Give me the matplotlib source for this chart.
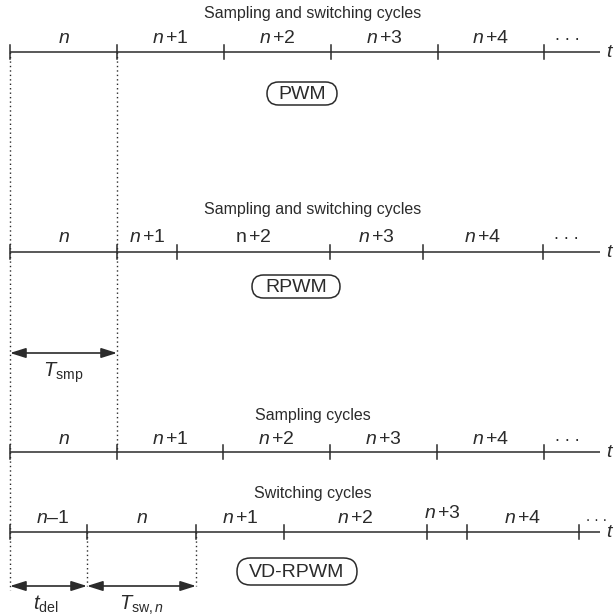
import matplotlib
matplotlib.use("Agg")
import matplotlib.pyplot as plt
from matplotlib.patches import FancyBboxPatch, FancyArrowPatch

plt.rcParams['font.family'] = ['Liberation Sans', 'DejaVu Sans']
plt.rcParams['mathtext.fontset'] = 'custom'
plt.rcParams['mathtext.rm'] = 'Liberation Sans'
plt.rcParams['mathtext.it'] = 'Liberation Sans:italic'
plt.rcParams['mathtext.bf'] = 'Liberation Sans:bold'


# DATA (pixel positions)
line_y = [52, 252, 452, 532]
line_end = 600

ticks = [
    [10, 117, 224, 331, 438, 544],
    [10, 117, 177, 330, 423, 543],
    [10, 117, 223, 330, 437, 544],
    [10, 87, 196, 284, 427, 467, 579],
]

labels = [
    [r"$n$", r"$n\,{+}1$", r"$n\,{+}2$", r"$n\,{+}3$", r"$n\,{+}4$"],
    [r"$n$", r"$n\,{+}1$", r"$\mathrm{n}\,{+}2$", r"$n\,{+}3$", r"$n\,{+}4$"],
    [r"$n$", r"$n\,{+}1$", r"$n\,{+}2$", r"$n\,{+}3$", r"$n\,{+}4$"],
    [r"$n$–1", r"$n$", r"$n\,{+}1$", r"$n\,{+}2$", r"$n\,{+}3$", r"$n\,{+}4$"],
]
label_y = [43, 242, 444, 523]

titles = ["Sampling and switching cycles", "Sampling and switching cycles",
          "Sampling cycles", "Switching cycles"]
title_y = [18, 214, 420, 498]

boxes = ["PWM", "RPWM", "VD-RPWM"]
box_cx = [302, 296, 297]
box_cy = [93.5, 286.5, 571.5]
box_w = [70, 88, 120]
box_h = [23, 23, 27]

# dotted guides: x, y_top, y_bottom
guide_x = [10, 117, 87, 196]
guide_top = [52, 52, 532, 532]
guide_bot = [590, 452, 586, 586]

# dimension arrows: x0, x1, y, label
arrow_x0 = [10, 10, 87]
arrow_x1 = [117, 87, 196]
arrow_y = [353, 586, 586]
arrow_lbl = [r"$T_{\mathrm{smp}}$", r"$t_{\mathrm{del}}$", r"$T_{\mathrm{sw},n}$"]
arrow_lbl_y = [377, 610, 610]

col = '#2b2b2b'

fig = plt.figure(figsize=(6.14, 6.16), dpi=100)
ax = fig.add_axes([0, 0, 1, 1])
ax.set_xlim(0, 614)
ax.set_ylim(616, 0)
ax.axis('off')

for i in range(4):
    y = line_y[i]
    tk = ticks[i]
    ax.plot([tk[0], line_end], [y, y], color=col, lw=1.1, solid_capstyle='butt')
    for x in tk:
        ax.plot([x, x], [y - 7, y + 7], color=col, lw=1.1)
    for j, lab in enumerate(labels[i]):
        xm = (tk[j] + tk[j + 1]) / 2
        yy = label_y[i]
        if i == 3 and j == 0:
            xm += 4
        if i == 3 and j == 4:
            xm -= 5
            yy -= 5
        ax.text(xm, yy, lab, fontsize=14, ha='center', va='baseline', color=col)
    # trailing dots and time axis symbol
    if i < 3:
        ax.text(tk[-1] + 23, label_y[i] - 3, ". . .", fontsize=13, ha='center',
                va='baseline', color=col)
    else:
        ax.text(tk[-1] + 7, label_y[i] - 2, ". . .", fontsize=11, ha='left',
                va='baseline', color=col)
    ax.text(606, y + 5, r"$t$", fontsize=14, ha='left', va='baseline', color=col)
    ax.text(313, title_y[i], titles[i], fontsize=11.5, ha='center', va='baseline', color=col)

for k in range(3):
    w, h = box_w[k], box_h[k]
    p = FancyBboxPatch((box_cx[k] - w / 2, box_cy[k] - h / 2), w, h,
                       boxstyle="round,pad=0,rounding_size=%g" % (h / 2),
                       fc='white', ec=col, lw=1.1)
    ax.add_patch(p)
    ax.text(box_cx[k], box_cy[k] + 1, boxes[k], fontsize=14, ha='center', va='center', color=col)

for k in range(4):
    ax.plot([guide_x[k], guide_x[k]], [guide_top[k], guide_bot[k]], color=col,
            lw=1.0, linestyle=(0, (1, 2.2)))

for k in range(3):
    a = FancyArrowPatch((arrow_x0[k], arrow_y[k]), (arrow_x1[k], arrow_y[k]),
                        arrowstyle="<|-|>,head_length=0.95,head_width=0.3",
                        mutation_scale=10, shrinkA=0, shrinkB=0, color=col, lw=1.2)
    ax.add_patch(a)
    ax.text((arrow_x0[k] + arrow_x1[k]) / 2 - (3 if k == 1 else 0), arrow_lbl_y[k],
            arrow_lbl[k], fontsize=14.5, ha='center', va='baseline', color=col)

fig.savefig("out.png", dpi=100)
